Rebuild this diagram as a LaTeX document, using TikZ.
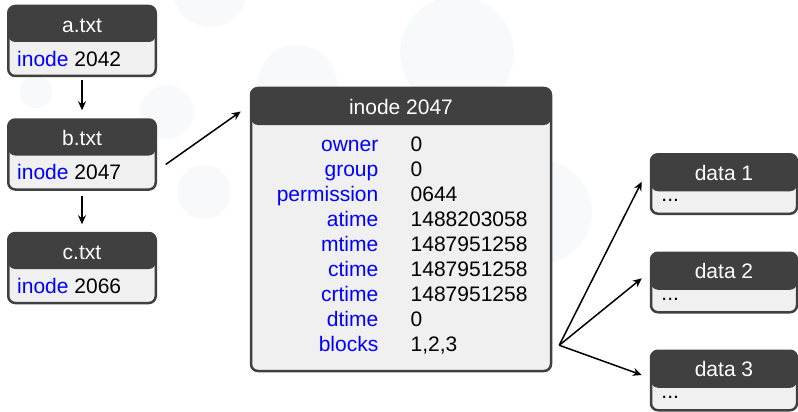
\documentclass[tikz,border=0pt]{standalone}
\usepackage{fontspec}
\setmainfont{Liberation Sans}
\usetikzlibrary{arrows.meta,positioning,calc}
\definecolor{boxgray}{HTML}{404040}
\definecolor{bodygray}{HTML}{F0F0F0}
\definecolor{bubble}{HTML}{F8F9FB}
\definecolor{keyblue}{HTML}{0000FF}

\begin{document}
\begin{tikzpicture}[x=1pt,y=-1pt,
  font=\fontsize{21}{25}\selectfont,
  filebox/.style={draw=boxgray,line width=2.5pt,rounded corners=7pt,fill=bodygray,
    minimum width=147.5pt,minimum height=70pt,
    path picture={\fill[boxgray] (path picture bounding box.north west)
      rectangle ([yshift=-#1]path picture bounding box.north east);}},
  filebox/.default=36pt,
  headtext/.style={text=white,inner sep=0pt,anchor=base},
  bodytext/.style={inner sep=0pt,anchor=base west},
  keytext/.style={text=keyblue,inner sep=0pt,anchor=base east},
  link/.style={-{Stealth[length=9pt,width=8pt]},line width=1.5pt}]

  \useasboundingbox (0,0) rectangle (798,412);
  % background bubbles
  \foreach \x/\y/\r in {210/-10/37,457/53/57,297/85/40,167/112/27,204/192/27,36/92/16,540/212/52}
    \fill[bubble] (\x,\y) circle (\r pt);

  % files
  \node[filebox] (a) at (82,41) {};
  \node[filebox,below=41pt of a] (b) {};
  \node[filebox,below=41pt of b] (c) {};
  \foreach \f/\num in {a/2042,b/2047,c/2066} {
    \node[headtext] (\f-t) at ([yshift=-27.5pt]\f.north) {\f.txt};
    \node[bodytext] (\f-b) at ([shift={(10,-11)}]\f.south west) {\textcolor{keyblue}{inode} \num};
  }

  % inode table
  \node[filebox=37pt,minimum width=300pt,minimum height=283pt] (inode) at (401,229.5) {};
  \node[headtext] (inode-t) at ([yshift=-28pt]inode.north) {inode 2047};
  \foreach \k/\v [count=\i] in {owner/0,group/0,permission/0644,atime/1488203058,
      mtime/1487951258,ctime/1487951258,crtime/1487951258,dtime/0,blocks/{1,2,3}} {
    \node[keytext] (k\i) at (378.5,126.7+25*\i) {\k};
    \node[bodytext] (v\i) at (410.5,126.7+25*\i) {\v};
  }

  % data blocks
  \foreach \n/\y in {1/184,2/282.5,3/380.5} {
    \node[filebox=37pt,minimum width=146pt,minimum height=59.5pt] (d\n) at (724,\y) {};
    \node[headtext] (d\n-t) at ([yshift=-27pt]d\n.north) {data \n};
    \node[bodytext] (d\n-b) at ([shift={(11.5,-13.5)}]d\n.south west) {...};
  }

  % links
  \draw[link,shorten <=3pt,shorten >=8pt] (a) -- (b);
  \draw[link,shorten <=5pt,shorten >=7.5pt] (b) -- (c);
  \draw[link] ([shift={(8.7,10)}]b.east) -- ([shift={(-9,24.75)}]inode.north west);
  \coordinate (fan) at ([shift={(7,-27)}]inode.south east);
  \draw[link] (fan) -- ([shift={(-8,-2.3)}]d1.west);
  \draw[link] (fan) -- ([shift={(-8,-4.2)}]d2.west);
  \draw[link] (fan) -- ([shift={(-8,-5.5)}]d3.west);
\end{tikzpicture}
\end{document}
